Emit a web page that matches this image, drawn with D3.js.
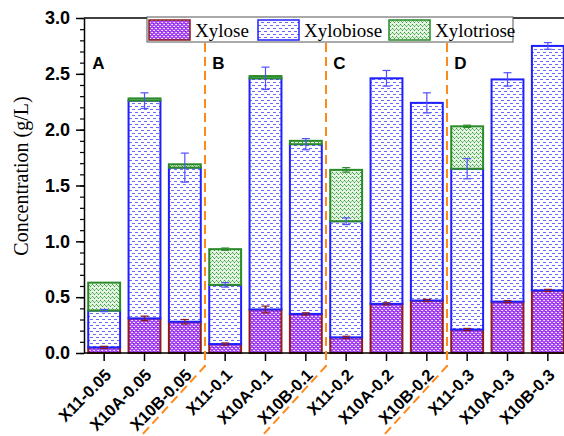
<!DOCTYPE html>
<html>
<head>
<meta charset="utf-8">
<script src="https://cdn.jsdelivr.net/npm/d3@7"></script>
<style>
  body { margin: 0; background: #fff; }
  svg { display: block; }
</style>
</head>
<body>
<div id="chart"></div>
<script>
// sample names
var categories = ["X11-0.05", "X10A-0.05", "X10B-0.05",
                  "X11-0.1", "X10A-0.1", "X10B-0.1",
                  "X11-0.2", "X10A-0.2", "X10B-0.2",
                  "X11-0.3", "X10A-0.3", "X10B-0.3"];
// concentrations of each sugar (g/L), stacked
var xylose      = [0.05, 0.31, 0.28, 0.08, 0.39, 0.35, 0.14, 0.44, 0.47, 0.21, 0.46, 0.56];
var xylobiose   = [0.33, 1.95, 1.38, 0.53, 2.07, 1.52, 1.04, 2.02, 1.77, 1.44, 1.99, 2.19];
var xylotriose  = [0.25, 0.02, 0.03, 0.32, 0.02, 0.03, 0.46, 0.00, 0.00, 0.38, 0.00, 0.00];
// standard deviations
var xyloseErr     = [0.01, 0.02, 0.02, 0.01, 0.03, 0.01, 0.01, 0.01, 0.01, 0.01, 0.01, 0.01];
var xylobioseErr  = [0.01, 0.07, 0.13, 0.02, 0.10, 0.05, 0.03, 0.07, 0.09, 0.09, 0.06, 0.03];
var xylotrioseErr = [0.00, 0.00, 0.00, 0.01, 0.00, 0.00, 0.02, 0.00, 0.00, 0.01, 0.00, 0.00];
var yTicks = [0, 0.5, 1.0, 1.5, 2.0, 2.5, 3.0];
var panels = ["A", "B", "C", "D"];
var seriesNames = ["Xylose", "Xylobiose", "Xylotriose"];

var width = 564, height = 436;
var margin = {top: 18, right: -4, bottom: 83, left: 84};

var svg = d3.select("#chart").append("svg")
    .attr("width", width)
    .attr("height", height);

var defs = svg.append("defs");

// purple dotted fill for xylose
var p1 = defs.append("pattern").attr("id", "patXylose")
    .attr("width", 4).attr("height", 4).attr("patternUnits", "userSpaceOnUse");
p1.append("rect").attr("width", 4).attr("height", 4).attr("fill", "#a648f5");
p1.append("rect").attr("x", 0).attr("y", 0).attr("width", 1).attr("height", 1).attr("fill", "#f6ecff");
p1.append("rect").attr("x", 2).attr("y", 2).attr("width", 1).attr("height", 1).attr("fill", "#f6ecff");
p1.append("rect").attr("x", 3).attr("y", 0).attr("width", 1).attr("height", 1).attr("fill", "#e2c2ff");
p1.append("rect").attr("x", 1).attr("y", 2).attr("width", 1).attr("height", 1).attr("fill", "#e2c2ff");
p1.append("rect").attr("x", 1).attr("y", 3).attr("width", 1).attr("height", 1).attr("fill", "#7f1fd8");

// blue dashes for xylobiose
var p2 = defs.append("pattern").attr("id", "patXylobiose")
    .attr("width", 6).attr("height", 6).attr("patternUnits", "userSpaceOnUse");
p2.append("rect").attr("width", 6).attr("height", 6).attr("fill", "#fff");
p2.append("rect").attr("x", 0).attr("y", 1).attr("width", 3).attr("height", 1).attr("fill", "#6a6aff");
p2.append("rect").attr("x", 3).attr("y", 4).attr("width", 3).attr("height", 1).attr("fill", "#6a6aff");

// green speckle for xylotriose
var p3 = defs.append("pattern").attr("id", "patXylotriose")
    .attr("width", 4).attr("height", 4).attr("patternUnits", "userSpaceOnUse");
p3.append("rect").attr("width", 4).attr("height", 4).attr("fill", "#e4f3e4");
p3.append("rect").attr("x", 0).attr("y", 0).attr("width", 1).attr("height", 1).attr("fill", "#3a9a3a");
p3.append("rect").attr("x", 1).attr("y", 1).attr("width", 1).attr("height", 1).attr("fill", "#5cb85c");
p3.append("rect").attr("x", 2).attr("y", 2).attr("width", 1).attr("height", 1).attr("fill", "#3a9a3a");
p3.append("rect").attr("x", 3).attr("y", 1).attr("width", 1).attr("height", 1).attr("fill", "#8fd08f");

var fills = ["url(#patXylose)", "url(#patXylobiose)", "url(#patXylotriose)"];
var strokes = ["#8e1c1c", "#1f1fff", "#2a8a2a"];
var errColors = ["#8e1c1c", "#5050ff", "#2a8a2a"];

var x = d3.scaleBand()
    .domain(categories)
    .range([margin.left, width - margin.right])
    .paddingInner(0.16)
    .paddingOuter(0.08);

var y = d3.scaleLinear()
    .domain([0, 3])
    .range([height - margin.bottom, margin.top]);

// build stack table from the arrays
var table = categories.map(function(c, i) {
    return {cat: c, Xylose: xylose[i], Xylobiose: xylobiose[i], Xylotriose: xylotriose[i]};
});
var stacked = d3.stack().keys(seriesNames)(table);
var errs = [xyloseErr, xylobioseErr, xylotrioseErr];

stacked.forEach(function(layer, k) {
    svg.append("g").selectAll("rect")
        .data(layer.filter(function(d) { return d[1] - d[0] > 0; }))
        .enter().append("rect")
        .attr("x", function(d) { return x(d.data.cat) + 1; })
        .attr("y", function(d) { return y(d[1]); })
        .attr("width", x.bandwidth() - 2)
        .attr("height", function(d) { return y(d[0]) - y(d[1]); })
        .attr("fill", fills[k])
        .attr("stroke", strokes[k])
        .attr("stroke-width", 2);
});

// error bars on top of each segment
stacked.forEach(function(layer, k) {
    var g = svg.append("g")
        .attr("stroke", errColors[k])
        .attr("stroke-width", 1.2);
    layer.forEach(function(d, i) {
        var e = errs[k][i];
        if (e <= 0) return;
        var cx = x(d.data.cat) + x.bandwidth() / 2;
        g.append("line").attr("x1", cx).attr("x2", cx)
            .attr("y1", y(d[1] + e)).attr("y2", y(d[1] - e));
        g.append("line").attr("x1", cx - 4).attr("x2", cx + 4)
            .attr("y1", y(d[1] + e)).attr("y2", y(d[1] + e));
        g.append("line").attr("x1", cx - 4).attr("x2", cx + 4)
            .attr("y1", y(d[1] - e)).attr("y2", y(d[1] - e));
    });
});

// axes
var yAxisMinor = d3.axisLeft(y)
    .tickValues(d3.range(0, 31).map(function(v) { return v / 10; }))
    .tickSize(4).tickFormat("");
svg.append("g")
    .attr("transform", "translate(" + margin.left + ",0)")
    .call(yAxisMinor)
    .call(function(g) { g.select(".domain").remove(); })
    .selectAll("line").attr("stroke", "#000").attr("stroke-width", 1.2);

var yAxis = d3.axisLeft(y)
    .tickValues(yTicks)
    .tickSize(8).tickSizeOuter(0)
    .tickFormat(d3.format(".1f"));
var gy = svg.append("g")
    .attr("transform", "translate(" + margin.left + ",0)")
    .call(yAxis);
gy.select(".domain").attr("stroke-width", 1.5);
gy.selectAll("line").attr("stroke-width", 1.5);
gy.selectAll("text")
    .attr("font-family", "Liberation Sans, Arial, sans-serif")
    .attr("font-weight", "bold")
    .attr("font-size", 18)
    .attr("fill", "#000")
    .attr("x", -14);

var xAxis = d3.axisBottom(x).tickSize(8).tickSizeOuter(0);
var gx = svg.append("g")
    .attr("transform", "translate(0," + y(0) + ")")
    .call(xAxis);
gx.select(".domain").attr("d", "M" + margin.left + ",0H" + (width + 4)).attr("stroke-width", 1.5);
gx.selectAll("line").attr("stroke-width", 1.5);
gx.selectAll("text")
    .attr("font-family", "Liberation Sans, Arial, sans-serif")
    .attr("font-weight", "bold")
    .attr("font-size", 16.5)
    .attr("fill", "#000")
    .attr("text-anchor", "end")
    .attr("dy", 0)
    .attr("y", 0)
    .attr("transform", "translate(8,23) rotate(-45)");

// top frame line
svg.append("line")
    .attr("x1", margin.left).attr("x2", width)
    .attr("y1", y(3)).attr("y2", y(3))
    .attr("stroke", "#000").attr("stroke-width", 1.5);

// y title
svg.append("text")
    .attr("transform", "translate(28,176) rotate(-90)")
    .attr("text-anchor", "middle")
    .attr("font-family", "Liberation Serif, Times New Roman, serif")
    .attr("font-size", 20)
    .text("Concentration (g/L)");

// group separators
var step = x.step();
var bottomY = y(0) + 13;
[3, 6, 9].forEach(function(i) {
    var sx = x(categories[i]) - step * x.paddingInner() / 2;
    svg.append("path")
        .attr("d", "M" + sx + ",43V" + bottomY + "L" + (sx - 64) + "," + (bottomY + 70))
        .attr("fill", "none")
        .attr("stroke", "#ff8a1c")
        .attr("stroke-width", 2)
        .attr("stroke-dasharray", "9,5");
});

// panel letters
panels.forEach(function(p, j) {
    svg.append("text")
        .attr("x", x(categories[j * 3]) + (j === 0 ? 5 : 4))
        .attr("y", 69)
        .attr("font-family", "Liberation Sans, Arial, sans-serif")
        .attr("font-weight", "bold")
        .attr("font-size", 17)
        .text(p);
});

// legend
var legend = svg.append("g");
legend.append("rect")
    .attr("x", 147).attr("y", 17).attr("width", 366).attr("height", 25)
    .attr("fill", "#fff").attr("stroke", "#555").attr("stroke-width", 1);
var legX = [148, 257, 388];
seriesNames.forEach(function(n, k) {
    legend.append("rect")
        .attr("x", legX[k] + 1).attr("y", 20).attr("width", 41).attr("height", 20)
        .attr("fill", fills[k]).attr("stroke", strokes[k]).attr("stroke-width", 1.5);
    legend.append("text")
        .attr("x", legX[k] + 47).attr("y", 37)
        .attr("font-family", "Liberation Serif, Times New Roman, serif")
        .attr("font-size", 19)
        .text(n);
});
</script>
</body>
</html>
